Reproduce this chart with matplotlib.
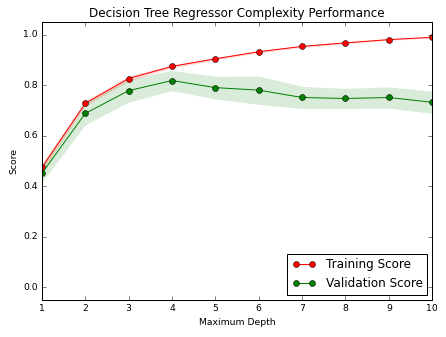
import numpy as np
import matplotlib
matplotlib.use("Agg")
import matplotlib.pyplot as plt

plt.style.use("classic")

max_depth = [1, 2, 3, 4, 5, 6, 7, 8, 9, 10]
train_mean = [0.474, 0.728, 0.826, 0.874, 0.904, 0.932, 0.953, 0.967, 0.980, 0.989]
train_std = [0.015, 0.010, 0.010, 0.006, 0.005, 0.004, 0.004, 0.004, 0.003, 0.003]
test_mean = [0.451, 0.688, 0.778, 0.818, 0.790, 0.780, 0.751, 0.747, 0.751, 0.732]
test_std = [0.035, 0.045, 0.045, 0.040, 0.045, 0.056, 0.044, 0.040, 0.042, 0.044]

x = np.array(max_depth)
tm, ts = np.array(train_mean), np.array(train_std)
vm, vs = np.array(test_mean), np.array(test_std)

fig = plt.figure(figsize=(446 / 72, 337 / 72), dpi=72, facecolor="white")
ax = fig.add_axes([0.094, 0.110, 0.875, 0.825])

ax.plot(x, tm, "o-", color="r", label="Training Score")
ax.plot(x, vm, "o-", color="g", label="Validation Score")
ax.fill_between(x, tm - ts, tm + ts, alpha=0.15, color="r", linewidth=0)
ax.fill_between(x, vm - vs, vm + vs, alpha=0.15, color="g", linewidth=0)

ax.set_title("Decision Tree Regressor Complexity Performance", fontsize=12)
ax.set_xlabel("Maximum Depth", fontsize=9.3)
ax.set_ylabel("Score", fontsize=9.3)
ax.tick_params(labelsize=9.3)
ax.set_xlim(1, 10)
ax.set_ylim(-0.05, 1.05)
ax.legend(loc="lower right", fontsize=12, numpoints=2, borderaxespad=0.4)

fig.savefig("out.png", dpi=72, facecolor="white")
